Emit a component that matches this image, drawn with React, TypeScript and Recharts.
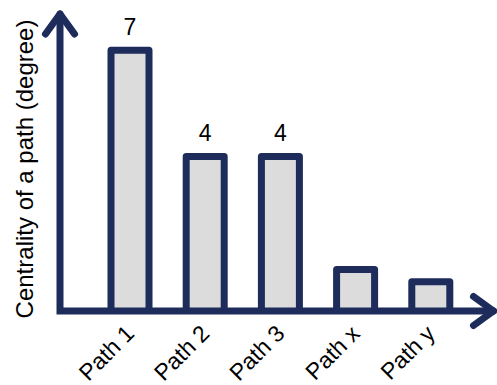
import React from 'react';
import { BarChart, Bar, XAxis, YAxis, LabelList, Customized } from 'recharts';

// ---- data ----
const categories: string[] = ['Path 1', 'Path 2', 'Path 3', 'Path x', 'Path y'];
const values: number[] = [7, 4, 4, 0.8, 0.45];
const valueLabels: string[] = ['7', '4', '4', '', ''];
const yAxisTitle = 'Centrality of a path (degree)';
const AXIS_ORIGIN = -0.374; // value at which the drawn x-axis sits
const Y_MAX = 8;

const data = categories.map((name, i) => ({
  name,
  range: [AXIS_ORIGIN, values[i]],
  label: valueLabels[i],
}));

// ---- style / layout ----
const NAVY = '#1d2c5b';
const FILL = '#dcdcdc';
const FONT = '"Liberation Sans", Arial, sans-serif';
const W = 497;
const H = 385;
const MARGIN = { top: 15, right: 29, bottom: 0, left: 92 };
const X_AXIS_H = 74;
const AXIS_X = 60;
const AXIS_Y = H - MARGIN.bottom - X_AXIS_H; // 311
const SW = 7;

const Axes = () => {
  const yTip = 14;
  const xTip = W - 3.5;
  const head = 20;
  const half = 14.5;
  return (
    <g>
      <path
        d={`M${AXIS_X},${yTip} L${AXIS_X},${AXIS_Y} L${xTip},${AXIS_Y}`}
        fill="none"
        stroke={NAVY}
        strokeWidth={SW}
        strokeLinejoin="miter"
        strokeLinecap="round"
      />
      <path
        d={`M${AXIS_X - half},${yTip + head} L${AXIS_X},${yTip} L${AXIS_X + half},${yTip + head}`}
        fill="none"
        stroke={NAVY}
        strokeWidth={SW}
        strokeLinejoin="round"
        strokeLinecap="round"
      />
      <path
        d={`M${xTip - head},${AXIS_Y - half} L${xTip},${AXIS_Y} L${xTip - head},${AXIS_Y + half}`}
        fill="none"
        stroke={NAVY}
        strokeWidth={SW}
        strokeLinejoin="round"
        strokeLinecap="round"
      />
      <text
        x={33}
        y={169}
        transform={`rotate(-90, 33, 169)`}
        textAnchor="middle"
        fontSize={24}
        fontFamily={FONT}
        fill="#000"
      >
        {yAxisTitle}
      </text>
    </g>
  );
};

const Tick = (props: any) => {
  const { x, y, payload } = props;
  const ax = x + 6;
  const ay = y + 16;
  return (
    <text
      x={ax}
      y={ay}
      transform={`rotate(-45, ${ax}, ${ay})`}
      textAnchor="end"
      fontSize={23}
      fontFamily={FONT}
      fill="#000"
    >
      {payload.value}
    </text>
  );
};

const renderLabel = (props: any) => {
  const { x, y, width, value } = props;
  if (!value) return null;
  return (
    <text
      x={x + width / 2}
      y={y - 15}
      textAnchor="middle"
      fontSize={23}
      fontFamily={FONT}
      fill="#000"
    >
      {value}
    </text>
  );
};

export default function App() {
  return (
    <div style={{ position: 'absolute', left: 0, top: 0, width: W, height: H, background: '#fff' }}>
      <BarChart width={W} height={H} data={data} margin={MARGIN}>
        <XAxis
          dataKey="name"
          height={X_AXIS_H}
          axisLine={false}
          tickLine={false}
          interval={0}
          tick={<Tick />}
        />
        <YAxis hide domain={[AXIS_ORIGIN, Y_MAX]} type="number" allowDataOverflow />
        <Bar
          dataKey="range"
          fill={FILL}
          stroke={NAVY}
          strokeWidth={SW}
          strokeLinejoin="round"
          barSize={38}
          isAnimationActive={false}
        >
          <LabelList dataKey="label" content={renderLabel} />
        </Bar>
        <Customized component={<Axes />} />
      </BarChart>
    </div>
  );
}
